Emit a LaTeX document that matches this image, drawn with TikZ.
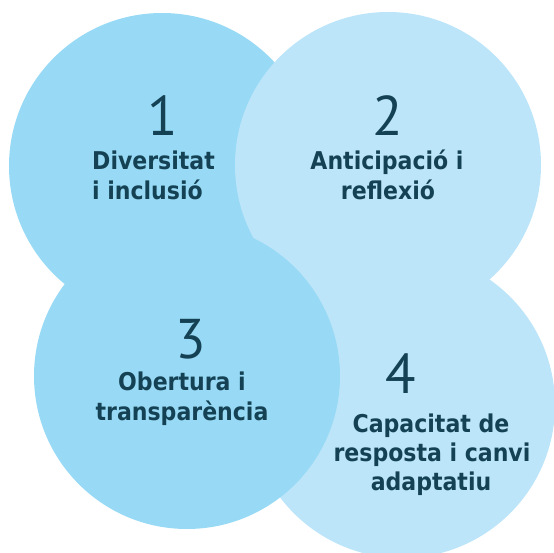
\documentclass[tikz,border=0pt]{standalone}
\usepackage{fontspec}
\setmainfont{PT Sans}
\newfontfamily\lblfont{DejaVu Sans Condensed}
\definecolor{cdark}{RGB}{152,218,245}
\definecolor{clight}{RGB}{189,229,249}
\definecolor{ctext}{RGB}{20,66,84}
\begin{document}
\begin{tikzpicture}[x=1pt,y=-1pt,
  bubble/.style={circle,minimum size=306pt,inner sep=0pt,draw=none},
  num/.style={text=ctext,font=\fontsize{56}{56}\selectfont,anchor=base},
  lbl/.style={text=ctext,font=\lblfont\fontsize{24.5}{30}\selectfont\bfseries,anchor=base,inner sep=0pt}]
\useasboundingbox (0,0) rectangle (554,553);
\clip (0,0) rectangle (554,553);
\node[bubble,fill=cdark]  (c1) at (162,166) {};
\node[bubble,fill=clight] (c2) at (388,165) {};
\node[bubble,fill=clight] (c4) at (402,405) {};
\node[bubble,fill=cdark]  (c3) at (187,376) {};
% labels 1
\node[num] (n1) at (163,136) {1};
\node[lbl,anchor=base west] (t1a) at (92,170) {Diversitat};
\node[lbl,anchor=base west] (t1b) at (92,200) {i inclusió};
% labels 2
\node[num] (n2) at (388,136) {2};
\node[lbl] (t2a) at (387,170) {Anticipació i};
\node[lbl] (t2b) at (388,200) {reflexió};
% labels 3
\node[num] (n3) at (191,358) {3};
\node[lbl] (t3a) at (182,390) {Obertura i};
\node[lbl] (t3b) at (182,420) {transparència};
% labels 4
\node[num] (n4) at (401,393) {4};
\node[lbl] (t4a) at (431,432) {Capacitat de};
\node[lbl] (t4b) at (432,461) {resposta i canvi};
\node[lbl] (t4c) at (431,490) {adaptatiu};
\end{tikzpicture}
\end{document}
